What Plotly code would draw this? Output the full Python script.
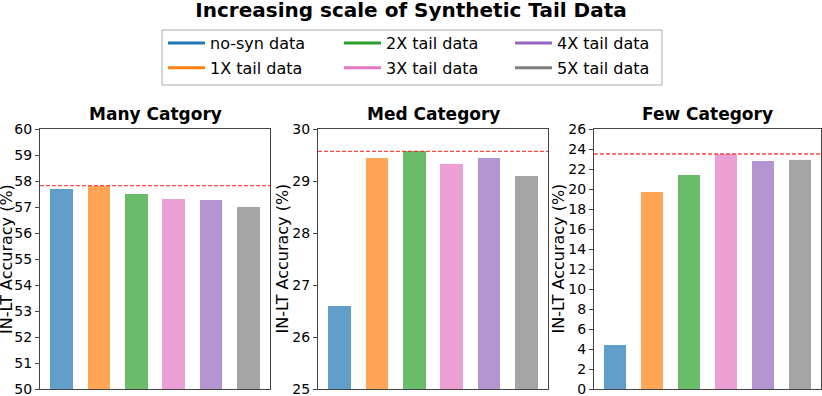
import plotly.graph_objects as go

# ---- data ----
labels = ["no-syn data", "1X tail data", "2X tail data",
          "3X tail data", "4X tail data", "5X tail data"]
colors = ["#1f77b4", "#ff7f0e", "#2ca02c", "#e377c2", "#9467bd", "#7f7f7f"]

many_acc = [57.7, 57.82, 57.5, 57.32, 57.28, 57.0]
med_acc = [26.6, 29.45, 29.57, 29.33, 29.45, 29.1]
few_acc = [4.4, 19.7, 21.45, 23.5, 22.8, 22.9]

panel_titles = ["Many Catgory", "Med Category", "Few Category"]
panel_values = [many_acc, med_acc, few_acc]
y_ranges = [(50, 60), (25, 30), (0, 26)]
y_dticks = [1, 1, 2]
y_title = "IN-LT Accuracy (%)"

W, H = 822, 396
FONT = "DejaVu Sans"

# panel positions in pixels (left, right), shared top/bottom
x_px = [(40, 270), (318, 548), (594, 821)]
top_px, bot_px = 129, 389
ydom = [(H - bot_px) / H, (H - top_px) / H]
ytitle_x_px = [6, 281.5, 557.5]

fig = go.Figure()

for i, vals in enumerate(panel_values):
    ax = "" if i == 0 else str(i + 1)
    fig.add_trace(go.Bar(
        x=list(range(len(vals))), y=vals,
        marker=dict(color=colors, line=dict(width=0)),
        opacity=0.7, width=0.6, showlegend=False,
        xaxis="x" + ax, yaxis="y" + ax,
    ))
    # best-value reference line
    fig.add_shape(type="line", xref="x" + ax + " domain", yref="y" + ax,
                  x0=0, x1=1, y0=max(vals), y1=max(vals),
                  line=dict(color="rgba(255,30,30,0.8)", width=1.3, dash="4px,2px"))

    xd = [x_px[i][0] / W, x_px[i][1] / W]
    fig.update_layout({
        "xaxis" + ax: dict(domain=xd, range=[-0.58, 5.58], showticklabels=False,
                           ticks="", showgrid=False, zeroline=False,
                           showline=True, linecolor="#444", linewidth=1,
                           mirror=True, anchor="y" + ax),
        "yaxis" + ax: dict(domain=ydom, range=list(y_ranges[i]),
                           dtick=y_dticks[i], tick0=0, showgrid=False,
                           zeroline=False, showline=True, linecolor="#444",
                           linewidth=1, mirror=True, ticks="outside",
                           ticklen=4, tickcolor="#444", anchor="x" + ax,
                           ticklabeloverflow="allow",
                           tickfont=dict(family=FONT, size=14, color="black"),
                           automargin=False),
    })
    fig.add_annotation(text=panel_titles[i], xref="paper", yref="paper",
                       x=(xd[0] + xd[1]) / 2, y=(H - 114) / H,
                       xanchor="center", yanchor="middle", showarrow=False,
                       font=dict(family=FONT, size=17, color="black", weight="bold"))
    fig.add_annotation(text=y_title, textangle=-90, xref="paper", yref="paper",
                       x=ytitle_x_px[i] / W, y=(ydom[0] + ydom[1]) / 2,
                       xanchor="center", yanchor="middle", showarrow=False,
                       font=dict(family=FONT, size=16, color="black"))

# legend: three columns of two entries
legend_cols = [[0, 1], [2, 3], [4, 5]]
legend_names = ["legend", "legend2", "legend3"]
legend_x_px = [163, 339, 510]
for col, idxs in enumerate(legend_cols):
    for k in idxs:
        fig.add_trace(go.Scatter(
            x=[None], y=[None], mode="lines", name=labels[k],
            line=dict(color=colors[k], width=3),
            legend=legend_names[col], legendgroup=labels[k],
        ))
    fig.update_layout({
        legend_names[col]: dict(
            x=legend_x_px[col] / W, y=(H - 26) / H, xanchor="left", yanchor="top",
            orientation="v", bgcolor="rgba(0,0,0,0)", borderwidth=0,
            tracegroupgap=1, itemclick=False, itemwidth=37,
            font=dict(family=FONT, size=16, color="black"),
        )
    })

fig.add_shape(type="rect", xref="paper", yref="paper",
              x0=162 / W, x1=662 / W, y0=(H - 85) / H, y1=(H - 30) / H,
              line=dict(color="#aaaaaa", width=1), layer="below")

fig.update_layout(
    width=W, height=H,
    margin=dict(l=0, r=0, t=0, b=0),
    plot_bgcolor="white", paper_bgcolor="white",
    title=dict(text="Increasing scale of Synthetic Tail Data",
               x=0.5, xanchor="center", xref="paper",
               y=1 - 10 / H, yref="container", yanchor="middle",
               font=dict(family=FONT, size=20, color="black", weight="bold")),
    font=dict(family=FONT, color="black"),
    bargap=0,
)

fig.write_html("out.html", config={"displayModeBar": False},
               post_script="document.body.style.margin='0';")
